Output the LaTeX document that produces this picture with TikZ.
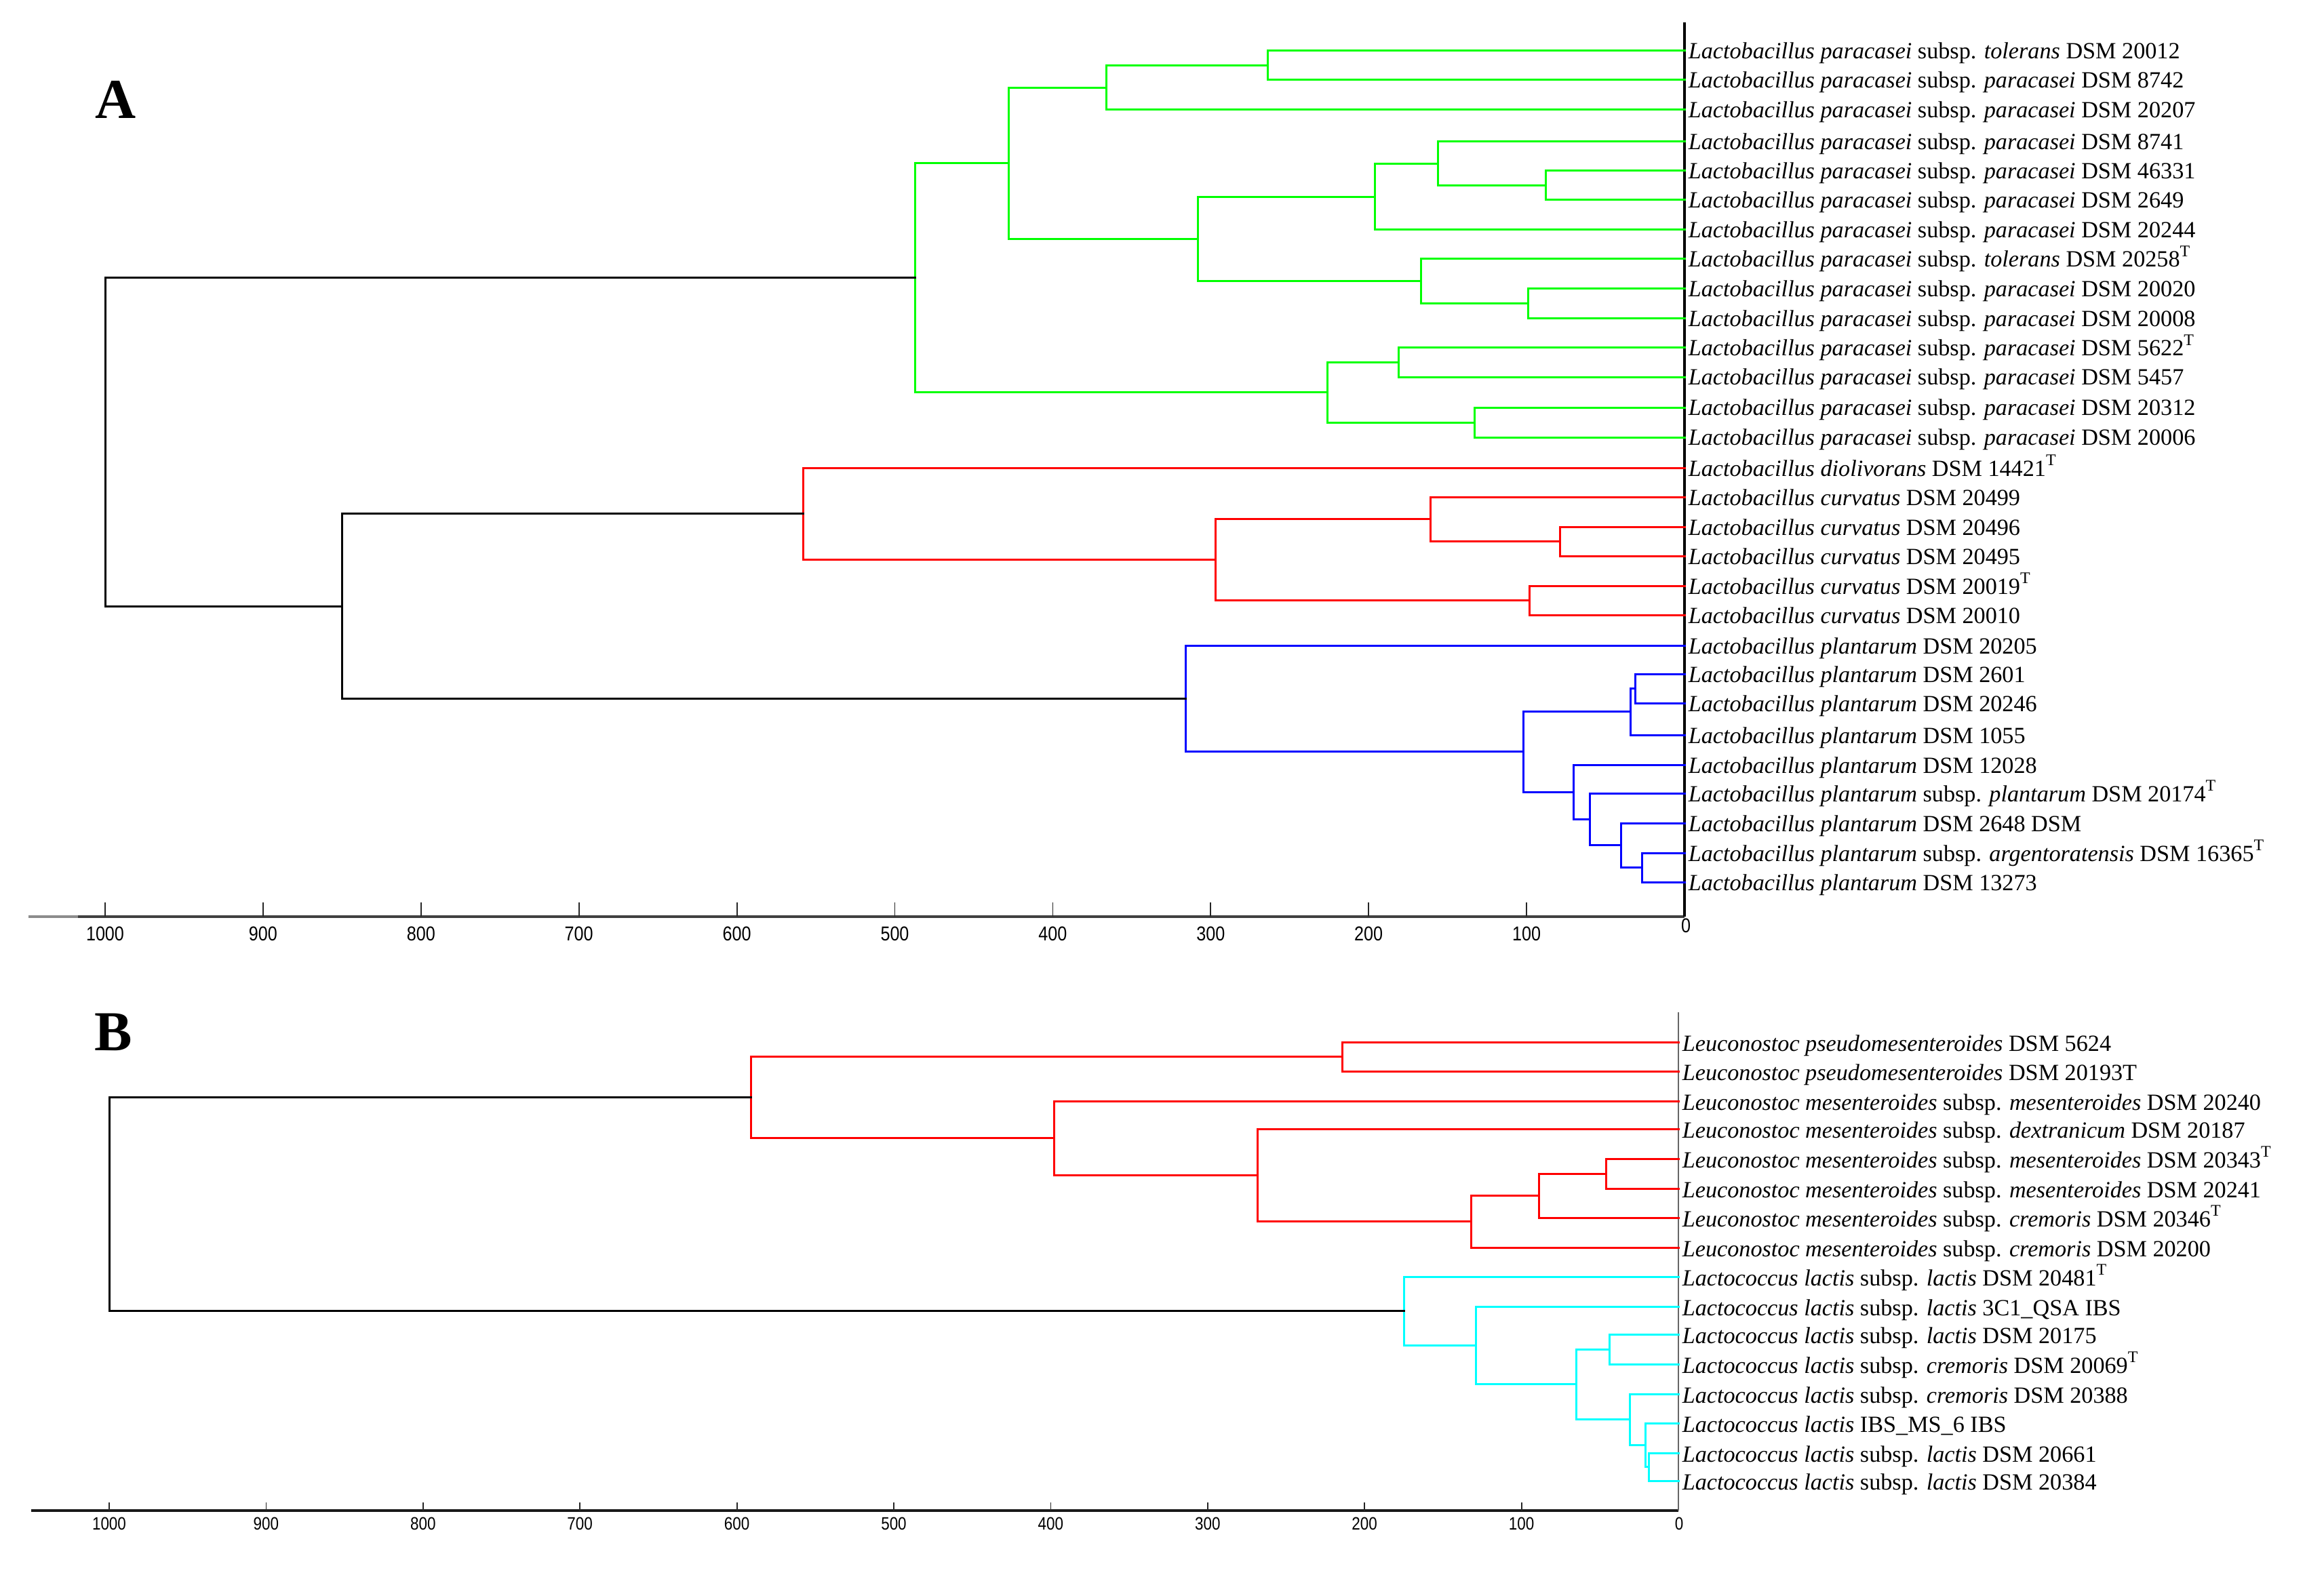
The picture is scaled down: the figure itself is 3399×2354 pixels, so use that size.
\documentclass[tikz,border=0pt]{standalone}
\usepackage{fontspec}
\setmainfont{Liberation Serif}
\newfontfamily\axfont{Liberation Sans}
\usetikzlibrary{calc}
\definecolor{cgreen}{RGB}{0,255,0}
\definecolor{cred}{RGB}{255,0,0}
\definecolor{cblue}{RGB}{0,0,255}
\definecolor{ccyan}{RGB}{0,255,255}
\newcommand\LbPara{\textit{Lactobacillus paracasei}}
\newcommand\LbCurv{\textit{Lactobacillus curvatus}}
\newcommand\LbPlan{\textit{Lactobacillus plantarum}}
\newcommand\LeuMes{\textit{Leuconostoc mesenteroides}}
\newcommand\LcLac{\textit{Lactococcus lactis}}
\newcommand\TT{\textsuperscript{T}}
\newcommand\mergeA[5]{%
  \coordinate (#1m) at ($(#3)!0.5!(#4)$);
  \coordinate (#1x) at ({2484-2.329*#2},0);
  \coordinate (#1) at (#1x |- #1m);
  \draw[branch,#5] (#3) -| (#1) |- (#4);}
\newcommand\mergeB[5]{%
  \coordinate (#1m) at ($(#3)!0.5!(#4)$);
  \coordinate (#1x) at ({2475-2.314*#2},0);
  \coordinate (#1) at (#1x |- #1m);
  \draw[branch,#5] (#3) -| (#1) |- (#4);}
\tikzset{
  branch/.style={line width=0.75pt, line cap=rect},
  leaf/.style={anchor=base west, inner sep=0pt, font=\fontsize{8.55}{10}\selectfont},
  tickmark/.style={line width=0.45pt, black!85},
  ticklabA/.style={inner sep=0pt, font=\axfont\fontsize{7.4}{8}\selectfont},
  ticklabB/.style={inner sep=0pt, font=\axfont\fontsize{6.6}{7}\selectfont},
  panel/.style={inner sep=0pt, font=\bfseries\fontsize{20.8}{24}\selectfont},
}
\begin{document}
\begin{tikzpicture}[x=0.25pt,y=-0.25pt]
\useasboundingbox[fill=white] (0,0) rectangle (3399,2354);
% ---------------- Panel A ----------------
\node[panel] (labA) at (171,147) {A};
\foreach \i/\y in {1/75,2/118,3/162,4/209,5/252,6/295,7/339,8/382,9/426,10/470,
  11/513,12/556,13/601,14/645,15/690,16/733,17/777,18/820,19/864,20/907,
  21/952,22/994,23/1037,24/1084,25/1128,26/1170,27/1214,28/1258,29/1301}
  {\coordinate (pa\i) at (2484,\y);}
% axes
\draw[line width=1pt, black!45] (42,1352) coordinate (axAs) -- (115,1352) coordinate (axAg);
\draw[line width=1pt, black!75] (axAg) -- (2484,1352) coordinate (axAe);
\draw[line width=0.8pt] (2484,33) coordinate (axAt) -- (axAe);
\foreach \k in {1,...,10}{
  \draw[tickmark] ({2484-232.9*\k},1331) coordinate (tkA\k) -- ({2484-232.9*\k},1352);
  \node[ticklabA] (tlA\k) at ({2484-232.9*\k},1377) {\scalebox{0.85}[1]{\the\numexpr\k*100\relax}};
}
\node[ticklabA] (tlA0) at (2486,1365) {\scalebox{0.85}[1]{0}};
% labels
\begin{scope}[every node/.style={leaf}]
\node (la1) at ($(pa1)+(5,12)$) {\LbPara\ subsp. \textit{tolerans} DSM 20012};
\node (la2) at ($(pa2)+(5,12)$) {\LbPara\ subsp. \textit{paracasei} DSM 8742};
\node (la3) at ($(pa3)+(5,12)$) {\LbPara\ subsp. \textit{paracasei} DSM 20207};
\node (la4) at ($(pa4)+(5,12)$) {\LbPara\ subsp. \textit{paracasei} DSM 8741};
\node (la5) at ($(pa5)+(5,12)$) {\LbPara\ subsp. \textit{paracasei} DSM 46331};
\node (la6) at ($(pa6)+(5,12)$) {\LbPara\ subsp. \textit{paracasei} DSM 2649};
\node (la7) at ($(pa7)+(5,12)$) {\LbPara\ subsp. \textit{paracasei} DSM 20244};
\node (la8) at ($(pa8)+(5,12)$) {\LbPara\ subsp. \textit{tolerans} DSM 20258\TT};
\node (la9) at ($(pa9)+(5,12)$) {\LbPara\ subsp. \textit{paracasei} DSM 20020};
\node (la10) at ($(pa10)+(5,12)$) {\LbPara\ subsp. \textit{paracasei} DSM 20008};
\node (la11) at ($(pa11)+(5,12)$) {\LbPara\ subsp. \textit{paracasei} DSM 5622\TT};
\node (la12) at ($(pa12)+(5,12)$) {\LbPara\ subsp. \textit{paracasei} DSM 5457};
\node (la13) at ($(pa13)+(5,12)$) {\LbPara\ subsp. \textit{paracasei} DSM 20312};
\node (la14) at ($(pa14)+(5,12)$) {\LbPara\ subsp. \textit{paracasei} DSM 20006};
\node (la15) at ($(pa15)+(5,12)$) {\textit{Lactobacillus diolivorans} DSM 14421\TT};
\node (la16) at ($(pa16)+(5,12)$) {\LbCurv\ DSM 20499};
\node (la17) at ($(pa17)+(5,12)$) {\LbCurv\ DSM 20496};
\node (la18) at ($(pa18)+(5,12)$) {\LbCurv\ DSM 20495};
\node (la19) at ($(pa19)+(5,12)$) {\LbCurv\ DSM 20019\TT};
\node (la20) at ($(pa20)+(5,12)$) {\LbCurv\ DSM 20010};
\node (la21) at ($(pa21)+(5,12)$) {\LbPlan\ DSM 20205};
\node (la22) at ($(pa22)+(5,12)$) {\LbPlan\ DSM 2601};
\node (la23) at ($(pa23)+(5,12)$) {\LbPlan\ DSM 20246};
\node (la24) at ($(pa24)+(5,12)$) {\LbPlan\ DSM 1055};
\node (la25) at ($(pa25)+(5,12)$) {\LbPlan\ DSM 12028};
\node (la26) at ($(pa26)+(5,12)$) {\LbPlan\ subsp. \textit{plantarum} DSM 20174\TT};
\node (la27) at ($(pa27)+(5,12)$) {\LbPlan\ DSM 2648 DSM};
\node (la28) at ($(pa28)+(5,12)$) {\LbPlan\ subsp. \textit{argentoratensis} DSM 16365\TT};
\node (la29) at ($(pa29)+(5,12)$) {\LbPlan\ DSM 13273};
\end{scope}
% tree A - green
\mergeA{g12}{264}{pa1}{pa2}{cgreen}
\mergeA{g13}{366}{g12}{pa3}{cgreen}
\mergeA{g56}{88}{pa5}{pa6}{cgreen}
\mergeA{g46}{156}{pa4}{g56}{cgreen}
\mergeA{g47}{196}{g46}{pa7}{cgreen}
\mergeA{g910}{99}{pa9}{pa10}{cgreen}
\mergeA{g810}{167}{pa8}{g910}{cgreen}
\mergeA{g410}{308}{g47}{g810}{cgreen}
\mergeA{g110}{428}{g13}{g410}{cgreen}
\mergeA{g1112}{181}{pa11}{pa12}{cgreen}
\mergeA{g1314}{133}{pa13}{pa14}{cgreen}
\mergeA{g1114}{226}{g1112}{g1314}{cgreen}
\mergeA{gR}{487}{g110}{g1114}{cgreen}
% red
\mergeA{r1718}{79}{pa17}{pa18}{cred}
\mergeA{r1618}{161}{pa16}{r1718}{cred}
\mergeA{r1920}{98}{pa19}{pa20}{cred}
\mergeA{r1620}{297}{r1618}{r1920}{cred}
\mergeA{rR}{558}{pa15}{r1620}{cred}
% blue
\mergeA{b2223}{31}{pa22}{pa23}{cblue}
\mergeA{b2224}{34}{b2223}{pa24}{cblue}
\mergeA{b2829}{27}{pa28}{pa29}{cblue}
\mergeA{b2729}{40}{pa27}{b2829}{cblue}
\mergeA{b2629}{60}{pa26}{b2729}{cblue}
\mergeA{b2529}{70}{pa25}{b2629}{cblue}
\mergeA{b2229}{102}{b2224}{b2529}{cblue}
\mergeA{bR}{316}{pa21}{b2229}{cblue}
% black
\mergeA{rbA}{850}{rR}{bR}{black}
\mergeA{rootA}{1000}{gR}{rbA}{black}
% ---------------- Panel B ----------------
\node[panel] (labB) at (167,1522) {B};
\foreach \i/\y in {1/1537,2/1580,3/1624,4/1665,5/1709,6/1753,7/1796,8/1840,
  9/1883,10/1927,11/1968,12/2012,13/2056,14/2099,15/2143,16/2184}
  {\coordinate (pb\i) at (2475,\y);}
\draw[line width=1.2pt, black!90] (46,2228) coordinate (axBs) -- (2475,2228) coordinate (axBe);
\draw[line width=0.7pt, black!60] (2475,1493) coordinate (axBt) -- (axBe);
\foreach \k in {1,...,10}{
  \draw[tickmark] ({2475-231.4*\k},2216) coordinate (tkB\k) -- ({2475-231.4*\k},2228);
  \node[ticklabB] (tlB\k) at ({2475-231.4*\k},2247) {\scalebox{0.85}[1]{\the\numexpr\k*100\relax}};
}
\node[ticklabB] (tlB0) at (2476,2247) {\scalebox{0.85}[1]{0}};
\begin{scope}[every node/.style={leaf}]
\node (lb1) at ($(pb1)+(5,13)$) {\textit{Leuconostoc pseudomesenteroides} DSM 5624};
\node (lb2) at ($(pb2)+(5,13)$) {\textit{Leuconostoc pseudomesenteroides} DSM 20193T};
\node (lb3) at ($(pb3)+(5,13)$) {\LeuMes\ subsp. \textit{mesenteroides} DSM 20240};
\node (lb4) at ($(pb4)+(5,13)$) {\LeuMes\ subsp. \textit{dextranicum} DSM 20187};
\node (lb5) at ($(pb5)+(5,13)$) {\LeuMes\ subsp. \textit{mesenteroides} DSM 20343\TT};
\node (lb6) at ($(pb6)+(5,13)$) {\LeuMes\ subsp. \textit{mesenteroides} DSM 20241};
\node (lb7) at ($(pb7)+(5,13)$) {\LeuMes\ subsp. \textit{cremoris} DSM 20346\TT};
\node (lb8) at ($(pb8)+(5,13)$) {\LeuMes\ subsp. \textit{cremoris} DSM 20200};
\node (lb9) at ($(pb9)+(5,13)$) {\LcLac\ subsp. \textit{lactis} DSM 20481\TT};
\node (lb10) at ($(pb10)+(5,13)$) {\LcLac\ subsp. \textit{lactis} 3C1\_QSA IBS};
\node (lb11) at ($(pb11)+(5,13)$) {\LcLac\ subsp. \textit{lactis} DSM 20175};
\node (lb12) at ($(pb12)+(5,13)$) {\LcLac\ subsp. \textit{cremoris} DSM 20069\TT};
\node (lb13) at ($(pb13)+(5,13)$) {\LcLac\ subsp. \textit{cremoris} DSM 20388};
\node (lb14) at ($(pb14)+(5,13)$) {\LcLac\ IBS\_MS\_6 IBS};
\node (lb15) at ($(pb15)+(5,13)$) {\LcLac\ subsp. \textit{lactis} DSM 20661};
\node (lb16) at ($(pb16)+(5,13)$) {\LcLac\ subsp. \textit{lactis} DSM 20384};
\end{scope}
% tree B - red
\mergeB{l12}{214}{pb1}{pb2}{cred}
\mergeB{l56}{46}{pb5}{pb6}{cred}
\mergeB{l57}{89}{l56}{pb7}{cred}
\mergeB{l58}{132}{l57}{pb8}{cred}
\mergeB{l48}{268}{pb4}{l58}{cred}
\mergeB{l38}{398}{pb3}{l48}{cred}
\mergeB{lR}{591}{l12}{l38}{cred}
% cyan
\mergeB{c1112}{44}{pb11}{pb12}{ccyan}
\mergeB{c1516}{19}{pb15}{pb16}{ccyan}
\mergeB{c1416}{21}{pb14}{c1516}{ccyan}
\mergeB{c1316}{31}{pb13}{c1416}{ccyan}
\mergeB{c1116}{65}{c1112}{c1316}{ccyan}
\mergeB{c1016}{129}{pb10}{c1116}{ccyan}
\mergeB{cR}{175}{pb9}{c1016}{ccyan}
\mergeB{rootB}{1000}{lR}{cR}{black}
\end{tikzpicture}
\end{document}
